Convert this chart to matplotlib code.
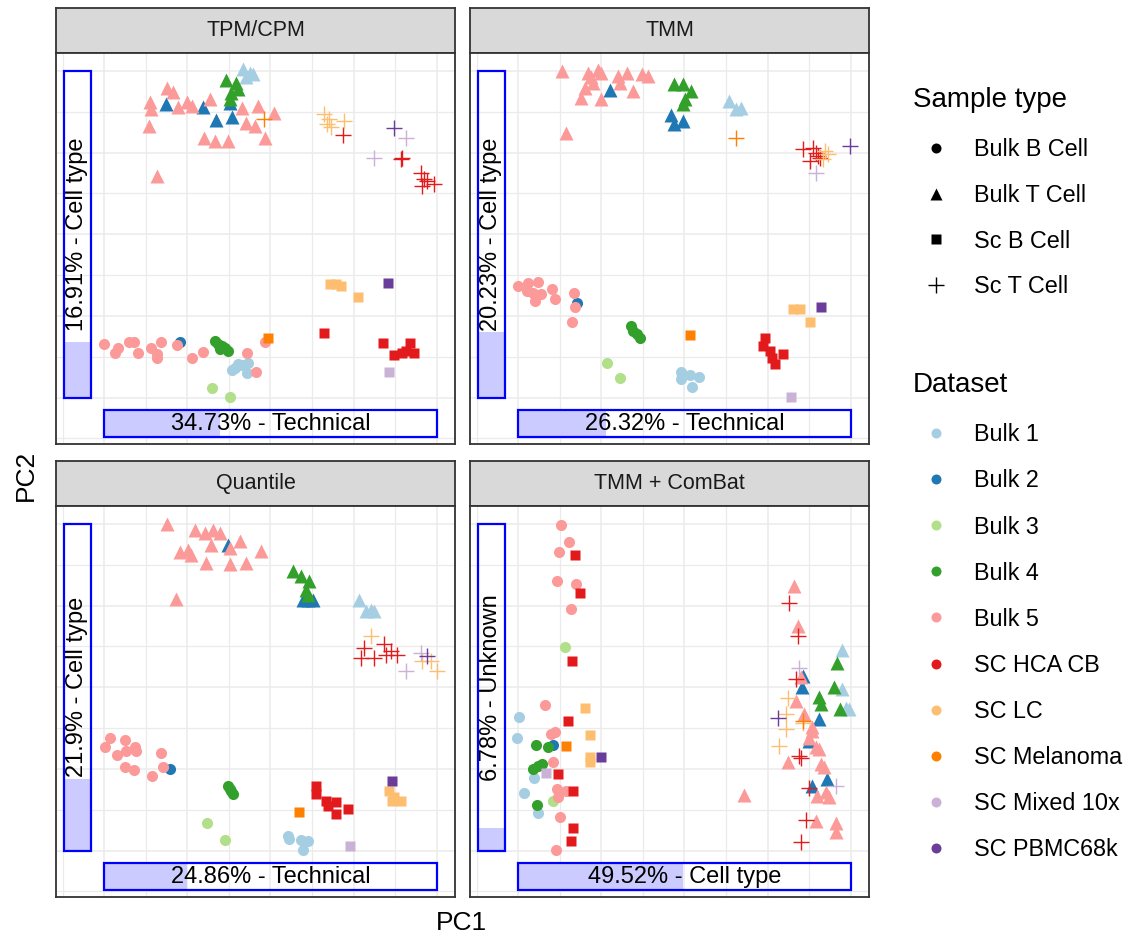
import matplotlib.pyplot as plt
from matplotlib.patches import Rectangle

plt.rcParams['font.family'] = ['Liberation Sans', 'DejaVu Sans']

W, H = 1140, 936

methods = ["TPM/CPM", "TMM", "Quantile", "TMM + ComBat"]
pc1_pct = [34.73, 26.32, 24.86, 49.52]
pc1_source = ["Technical", "Technical", "Technical", "Cell type"]
pc2_pct = [16.91, 20.23, 21.9, 6.78]
pc2_source = ["Cell type", "Cell type", "Cell type", "Unknown"]

datasets = ["Bulk 1", "Bulk 2", "Bulk 3", "Bulk 4", "Bulk 5", "SC HCA CB",
            "SC LC", "SC Melanoma", "SC Mixed 10x", "SC PBMC68k"]
dataset_colors = ["#A6CEE3", "#1F78B4", "#B2DF8A", "#33A02C", "#FB9A99",
                  "#E31A1C", "#FDBF6F", "#FF7F00", "#CAB2D6", "#6A3D9A"]
sample_types = ["Bulk B Cell", "Bulk T Cell", "Sc B Cell", "Sc T Cell"]

# PCA scores, rescaled so that 0-100 covers the plotted range of each PC
tpm_points = {
    ("Bulk 1", "Bulk T Cell"): [(41.7, 100.5), (43.7, 99.3), (42.7, 98.3), (44.7, 99.0)],
    ("Bulk 2", "Bulk T Cell"): [(18.7, 89.8), (29.7, 89.1), (33.5, 84.9), (38.4, 85.9), (37.7, 90.1)],
    ("Bulk 4", "Bulk T Cell"): [(36.7, 97.2), (39.7, 96.4), (40.2, 94.4), (38.2, 93.4), (37.7, 91.3)],
    ("Bulk 5", "Bulk T Cell"): [(19.0, 94.9), (20.7, 93.6), (13.7, 90.5), (14.0, 88.3), (22.2, 89.1),
                                (25.0, 90.5), (26.4, 89.3), (31.7, 91.3), (41.4, 88.8), (46.2, 89.3),
                                (51.2, 87.2), (13.4, 83.0), (42.7, 84.0), (45.2, 83.0), (29.9, 79.4),
                                (33.3, 78.5), (37.3, 78.5), (48.5, 79.5), (15.8, 67.9)],
    ("SC Melanoma", "Sc T Cell"): [(48.0, 85.2)],
    ("SC LC", "Sc T Cell"): [(66.2, 86.7), (67.7, 85.2), (68.2, 82.7), (72.2, 84.7), (67.0, 83.7)],
    ("SC HCA CB", "Sc T Cell"): [(71.7, 80.3), (89.7, 73.5), (89.2, 73.0), (95.2, 68.9), (96.2, 66.8),
                                 (99.2, 65.3), (95.7, 64.8), (97.2, 66.3)],
    ("SC PBMC68k", "Sc T Cell"): [(87.3, 82.4)],
    ("SC Mixed 10x", "Sc T Cell"): [(90.9, 79.6), (81.1, 73.5)],
    ("SC LC", "Sc B Cell"): [(68.0, 34.7), (69.7, 34.9), (71.2, 34.2), (76.2, 30.9)],
    ("SC PBMC68k", "Sc B Cell"): [(85.2, 35.2)],
    ("SC Melanoma", "Sc B Cell"): [(49.2, 18.1)],
    ("SC HCA CB", "Sc B Cell"): [(66.2, 19.9), (83.7, 16.8), (87.2, 13.0), (89.7, 13.8), (92.0, 16.6),
                                 (93.2, 13.8), (90.7, 14.3)],
    ("SC Mixed 10x", "Sc B Cell"): [(85.6, 7.7)],
    ("Bulk 5", "Bulk B Cell"): [(0.0, 16.3), (3.2, 13.8), (4.2, 15.3), (7.4, 17.0), (9.0, 17.0),
                                (10.2, 13.6), (14.0, 15.3), (16.0, 12.2), (17.0, 17.0), (21.8, 16.0),
                                (26.3, 12.2), (29.8, 14.0), (42.8, 13.6), (45.8, 7.7), (48.5, 17.0),
                                (15.8, 13.3)],
    ("Bulk 2", "Bulk B Cell"): [(22.8, 17.1)],
    ("Bulk 4", "Bulk B Cell"): [(33.3, 17.3), (34.3, 16.3), (35.3, 15.8), (36.3, 15.3), (37.3, 14.3),
                                (34.8, 14.8)],
    ("Bulk 1", "Bulk B Cell"): [(38.3, 8.5), (40.3, 10.2), (43.3, 10.7), (42.8, 7.4), (39.3, 9.2),
                                (41.3, 9.9)],
    ("Bulk 3", "Bulk B Cell"): [(32.3, 2.8), (37.8, 0.2)],
}

tmm_points = {
    ("Bulk 5", "Bulk T Cell"): [(13.2, 100.0), (21.0, 99.5), (24.0, 100.3), (25.0, 99.3), (22.0, 98.0),
                                (20.0, 94.9), (22.5, 96.4), (19.0, 91.8), (25.0, 91.3), (30.0, 98.5),
                                (32.6, 99.3), (30.6, 96.4), (34.6, 93.9), (37.1, 99.0), (39.1, 98.5),
                                (14.3, 81.1)],
    ("Bulk 2", "Bulk T Cell"): [(27.6, 94.2), (46.1, 86.4), (49.6, 84.7), (46.8, 83.7)],
    ("Bulk 4", "Bulk T Cell"): [(46.8, 95.9), (49.6, 95.9), (52.1, 93.9), (50.1, 91.3), (49.6, 89.8)],
    ("Bulk 1", "Bulk T Cell"): [(63.4, 90.8), (65.6, 88.3), (67.1, 88.8)],
    ("SC Melanoma", "Sc T Cell"): [(65.6, 79.6)],
    ("SC HCA CB", "Sc T Cell"): [(85.7, 76.0), (88.7, 76.5), (87.7, 72.4), (90.2, 74.0), (90.7, 73.5),
                                 (89.7, 75.0)],
    ("SC LC", "Sc T Cell"): [(92.2, 75.5), (93.2, 74.5), (91.7, 73.0)],
    ("SC Mixed 10x", "Sc T Cell"): [(89.7, 68.9)],
    ("SC PBMC68k", "Sc T Cell"): [(99.7, 77.0)],
    ("SC LC", "Sc B Cell"): [(82.5, 27.2), (84.7, 27.0), (87.7, 23.0)],
    ("SC PBMC68k", "Sc B Cell"): [(91.2, 27.6)],
    ("SC Melanoma", "Sc B Cell"): [(51.6, 19.1)],
    ("SC HCA CB", "Sc B Cell"): [(74.1, 18.1), (73.6, 15.8), (75.7, 14.3), (77.2, 10.2), (79.7, 13.3),
                                 (76.2, 12.2)],
    ("SC Mixed 10x", "Sc B Cell"): [(81.9, 0.3)],
    ("Bulk 5", "Bulk B Cell"): [(0.0, 34.2), (3.0, 35.2), (6.0, 35.5), (2.5, 32.7), (5.0, 29.6),
                                (7.0, 31.6), (4.5, 32.1), (10.3, 33.2), (11.0, 30.3), (16.7, 32.1),
                                (17.0, 27.6), (16.2, 23.0)],
    ("Bulk 2", "Bulk B Cell"): [(17.8, 29.1)],
    ("Bulk 4", "Bulk B Cell"): [(33.9, 21.9), (34.6, 20.4), (35.6, 19.4), (36.6, 18.4)],
    ("Bulk 3", "Bulk B Cell"): [(26.6, 10.7), (30.6, 6.1)],
    ("Bulk 1", "Bulk B Cell"): [(49.1, 7.9), (51.6, 6.8), (54.4, 6.4), (52.4, 3.4), (48.9, 5.6)],
}

quantile_points = {
    ("Bulk 5", "Bulk T Cell"): [(19.0, 100.0), (27.4, 98.3), (30.2, 97.3), (32.7, 98.3), (34.7, 97.3),
                                (40.7, 94.7), (22.7, 91.4), (25.2, 91.9), (26.0, 90.6), (32.0, 93.5),
                                (30.7, 88.1), (37.7, 87.6), (42.7, 88.1), (47.2, 91.6), (21.7, 76.9),
                                (37.7, 92.7)],
    ("Bulk 2", "Bulk T Cell"): [(37.2, 93.7), (61.2, 76.6), (59.7, 76.6), (62.7, 76.6)],
    ("Bulk 4", "Bulk T Cell"): [(56.7, 85.5), (59.2, 84.0), (61.7, 82.5), (60.7, 79.9), (61.2, 78.4)],
    ("Bulk 1", "Bulk T Cell"): [(76.7, 76.6), (78.7, 73.3), (81.2, 73.3), (80.2, 73.8)],
    ("SC LC", "Sc T Cell"): [(80.2, 65.7), (98.2, 58.0), (100.2, 55.0), (95.7, 58.0)],
    ("SC HCA CB", "Sc T Cell"): [(78.2, 62.1), (77.2, 59.1), (81.2, 59.1), (84.2, 63.1), (84.7, 60.0),
                                 (86.2, 61.1), (88.2, 60.0)],
    ("SC Mixed 10x", "Sc T Cell"): [(90.7, 55.0), (95.2, 60.6)],
    ("SC PBMC68k", "Sc T Cell"): [(97.2, 59.6)],
    ("SC PBMC68k", "Sc B Cell"): [(86.5, 21.4)],
    ("SC LC", "Sc B Cell"): [(85.7, 18.3), (87.2, 16.3), (89.2, 15.3), (86.7, 15.3)],
    ("SC HCA CB", "Sc B Cell"): [(63.7, 19.9), (63.7, 17.3), (66.7, 15.3), (69.7, 14.8), (69.7, 11.2),
                                 (73.2, 12.7), (67.2, 13.7)],
    ("SC Melanoma", "Sc B Cell"): [(58.5, 11.7)],
    ("SC Mixed 10x", "Sc B Cell"): [(74.0, 1.5)],
    ("Bulk 5", "Bulk B Cell"): [(0.2, 31.8), (1.7, 34.6), (6.2, 33.8), (9.2, 31.8), (3.7, 29.3),
                                (6.7, 30.5), (9.7, 30.5), (6.2, 25.5), (9.0, 24.6), (14.4, 22.9),
                                (17.2, 30.0), (17.7, 25.5)],
    ("Bulk 2", "Bulk B Cell"): [(19.7, 24.9)],
    ("Bulk 4", "Bulk B Cell"): [(37.2, 19.9), (38.2, 18.3), (38.7, 17.3), (37.7, 18.8)],
    ("Bulk 3", "Bulk B Cell"): [(31.0, 8.4), (36.4, 3.3)],
    ("Bulk 1", "Bulk B Cell"): [(55.2, 4.6), (55.7, 3.6), (59.2, 3.1), (61.2, 2.9), (59.7, 0.2)],
}

combat_points = {
    ("Bulk 5", "Bulk B Cell"): [(13.0, 99.8), (15.3, 94.5), (12.3, 91.4), (11.7, 82.5), (17.3, 81.5),
                                (16.0, 74.0), (8.0, 44.6), (11.0, 36.2), (10.5, 27.0), (11.7, 18.8),
                                (12.0, 16.3), (12.5, 10.4), (11.5, 0.2), (10.0, 35.6), (14.5, 18.3)],
    ("Bulk 3", "Bulk B Cell"): [(14.2, 62.4), (10.5, 15.3)],
    ("Bulk 1", "Bulk B Cell"): [(0.3, 40.9), (-0.3, 34.6), (4.7, 22.2), (1.7, 17.5), (6.0, 11.5)],
    ("Bulk 4", "Bulk B Cell"): [(5.2, 32.4), (9.0, 31.8), (4.3, 24.9), (6.0, 26.0), (7.3, 26.5),
                                (5.8, 14.0)],
    ("Bulk 2", "Bulk B Cell"): [(10.5, 32.4)],
    ("SC HCA CB", "Sc B Cell"): [(17.0, 90.4), (18.5, 78.9), (16.1, 58.2), (14.9, 39.7), (12.0, 23.6),
                                 (16.5, 18.3), (16.5, 6.9), (15.8, 2.9)],
    ("SC LC", "Sc B Cell"): [(20.2, 43.8), (21.5, 35.4), (21.5, 28.7), (21.5, 27.0)],
    ("SC Melanoma", "Sc B Cell"): [(14.5, 32.1)],
    ("SC PBMC68k", "Sc B Cell"): [(24.8, 28.8)],
    ("SC Mixed 10x", "Sc B Cell"): [(8.5, 23.9)],
    ("Bulk 5", "Bulk T Cell"): [(82.8, 81.0), (84.0, 68.7), (85.0, 53.0), (83.5, 45.8), (86.0, 41.8),
                                (88.5, 37.7), (87.5, 34.6), (89.5, 31.6), (90.5, 31.1), (81.0, 27.0),
                                (91.0, 26.5), (92.0, 25.5), (90.0, 16.8), (93.5, 16.3), (92.5, 17.8),
                                (89.5, 9.2), (95.5, 8.4), (95.5, 5.6), (68.0, 17.0), (88.5, 36.7)],
    ("Bulk 2", "Bulk T Cell"): [(85.5, 53.5), (85.3, 50.1), (90.5, 40.2), (87.5, 33.6), (93.0, 21.9),
                                (88.5, 19.9)],
    ("Bulk 4", "Bulk T Cell"): [(95.8, 57.5), (95.0, 50.2), (90.5, 47.0), (91.0, 44.8), (96.7, 43.3)],
    ("Bulk 1", "Bulk T Cell"): [(97.5, 61.4), (97.5, 49.4), (98.5, 43.8), (99.5, 43.3)],
    ("SC HCA CB", "Sc T Cell"): [(81.5, 75.9), (84.0, 65.7), (83.5, 52.4), (84.5, 29.0), (85.0, 28.5),
                                 (87.5, 19.3), (86.5, 9.4), (85.0, 2.5)],
    ("SC LC", "Sc T Cell"): [(81.0, 46.8), (80.5, 41.8), (80.5, 37.2), (78.3, 32.1), (85.8, 39.2)],
    ("SC PBMC68k", "Sc T Cell"): [(78.0, 40.5)],
    ("SC Mixed 10x", "Sc T Cell"): [(84.5, 56.0), (95.5, 19.9)],
    ("SC Melanoma", "Sc T Cell"): [(85.5, 39.7)],
}

panel_points = [tpm_points, tmm_points, quantile_points, combat_points]

# marker and size (pt) for each sample type, ggplot shapes 16/17/15/3
shape_style = {
    "Bulk B Cell": ("o", 8.0),
    "Bulk T Cell": ("^", 9.6),
    "Sc B Cell": ("s", 7.8),
    "Sc T Cell": ("+", 11.5),
}


def px_rect(x0, y0, x1, y1):
    return [x0 / W, 1 - y1 / H, (x1 - x0) / W, (y1 - y0) / H]


fig = plt.figure(figsize=(W / 100, H / 100), dpi=100)

col_x = [(56, 455), (470, 869)]
row_y = [((8, 53), (53, 444)), ((461, 506), (506, 897))]

for i, method in enumerate(methods):
    r, c = divmod(i, 2)
    x0, x1 = col_x[c]
    (s0, s1), (p0, p1) = row_y[r]

    # facet strip
    st = fig.add_axes(px_rect(x0, s0, x1, s1))
    st.set_facecolor("#D9D9D9")
    st.set_xticks([])
    st.set_yticks([])
    for sp in st.spines.values():
        sp.set_color("#333333")
        sp.set_linewidth(1.3)
    st.text(0.5, 0.5, method, ha="center", va="center", fontsize=15.5,
            color="#1A1A1A", transform=st.transAxes)

    ax = fig.add_axes(px_rect(x0, p0, x1, p1))
    ax.set_xlim(-14.5, 105.5)
    ax.set_ylim(-14.2, 105.5)
    ax.set_xticks([0, 25, 50, 75, 100])
    ax.set_xticks([-12.5, 12.5, 37.5, 62.5, 87.5], minor=True)
    ax.set_yticks([0, 25, 50, 75, 100])
    ax.set_yticks([-12.5, 12.5, 37.5, 62.5, 87.5], minor=True)
    ax.grid(which="major", color="#EBEBEB", linewidth=1.1)
    ax.grid(which="minor", color="#EBEBEB", linewidth=0.9)
    ax.tick_params(which="both", length=0, labelbottom=False, labelleft=False)
    ax.set_axisbelow(True)
    for sp in ax.spines.values():
        sp.set_color("#333333")
        sp.set_linewidth(1.3)

    # variance bars: PC2 on the left, PC1 along the bottom
    ax.add_patch(Rectangle((-12.1, 0), 8.1, pc2_pct[i], facecolor="#CBCBFF",
                           edgecolor="none", zorder=1))
    ax.add_patch(Rectangle((-12.1, 0), 8.1, 100, facecolor="none",
                           edgecolor="#0000FF", linewidth=1.6, zorder=2))
    ax.text(-8.05, 50, f"{pc2_pct[i]:g}% - {pc2_source[i]}", rotation=90,
            ha="center", va="center", fontsize=17, zorder=3)
    ax.add_patch(Rectangle((0, -12.2), pc1_pct[i], 8.3, facecolor="#CBCBFF",
                           edgecolor="none", zorder=1))
    ax.add_patch(Rectangle((0, -12.2), 100, 8.3, facecolor="none",
                           edgecolor="#0000FF", linewidth=1.6, zorder=2))
    ax.text(50, -8.05, f"{pc1_pct[i]:g}% - {pc1_source[i]}",
            ha="center", va="center", fontsize=17, zorder=3)

    pts = panel_points[i]
    for ds, color in zip(datasets, dataset_colors):
        for stype in sample_types:
            xy = pts.get((ds, stype))
            if not xy:
                continue
            xs, ys = zip(*xy)
            m, ms = shape_style[stype]
            if m == "+":
                ax.plot(xs, ys, linestyle="none", marker=m, markersize=ms,
                        markeredgecolor=color, markeredgewidth=1.0, zorder=4)
            else:
                ax.plot(xs, ys, linestyle="none", marker=m, markersize=ms,
                        markerfacecolor=color, markeredgecolor="none", zorder=4)

fig.text(26 / W, 1 - 475 / H, "PC2", rotation=90, ha="center", va="center",
         fontsize=19)
fig.text(461 / W, 1 - 923 / H, "PC1", ha="center", va="center", fontsize=19)

# legends drawn on a pixel-space overlay
leg = fig.add_axes([0, 0, 1, 1])
leg.set_xlim(0, W)
leg.set_ylim(H, 0)
leg.axis("off")
leg.patch.set_alpha(0)

leg.text(913, 107, "Sample type", fontsize=20, va="baseline")
legend_sizes = {"Bulk B Cell": 7.2, "Bulk T Cell": 9.2, "Sc B Cell": 6.8, "Sc T Cell": 11.0}
for k, stype in enumerate(sample_types):
    y = 148 + k * 45.7
    m, _ = shape_style[stype]
    if m == "+":
        leg.plot([936], [y], marker=m, markersize=legend_sizes[stype],
                 markeredgecolor="black", markeredgewidth=1.0, linestyle="none")
    else:
        leg.plot([936], [y], marker=m, markersize=legend_sizes[stype],
                 markerfacecolor="black", markeredgecolor="none", linestyle="none")
    leg.text(974, y + 8.3, stype, fontsize=16.8, va="baseline")

leg.text(913, 392, "Dataset", fontsize=20, va="baseline")
for k, (ds, color) in enumerate(zip(datasets, dataset_colors)):
    y = 433 + k * 46.1
    leg.plot([936], [y], marker="o", markersize=7.2, markerfacecolor=color,
             markeredgecolor="none", linestyle="none")
    leg.text(974, y + 8.3, ds, fontsize=16.8, va="baseline")

fig.savefig("out.png", dpi=100)
